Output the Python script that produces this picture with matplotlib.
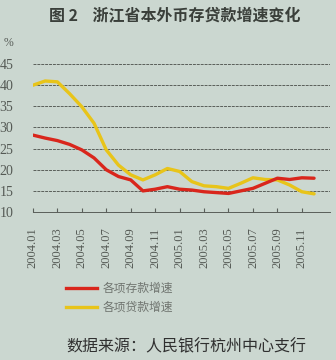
import matplotlib
matplotlib.use("Agg")
import matplotlib.pyplot as plt
import numpy as np

plt.rcParams['font.family'] = ['Noto Sans CJK SC', 'DejaVu Sans']

BG = "#cbd7d0"

# monthly growth rates, 2004.01 - 2005.12 (%)
months = ["2004.01", "2004.02", "2004.03", "2004.04", "2004.05", "2004.06",
          "2004.07", "2004.08", "2004.09", "2004.10", "2004.11", "2004.12",
          "2005.01", "2005.02", "2005.03", "2005.04", "2005.05", "2005.06",
          "2005.07", "2005.08", "2005.09", "2005.10", "2005.11", "2005.12"]
deposit = [28.2, 27.5, 26.9, 26.0, 24.7, 22.8, 20.0, 18.4, 17.6, 15.0, 15.4, 16.0,
           15.4, 15.2, 14.8, 14.6, 14.4, 15.0, 15.6, 16.8, 18.0, 17.7, 18.1, 18.0]
loan = [40.0, 41.0, 40.8, 38.0, 34.9, 31.0, 24.7, 21.1, 18.8, 17.6, 18.8, 20.3,
        19.6, 17.2, 16.2, 16.0, 15.6, 16.8, 18.1, 17.7, 17.6, 16.4, 14.8, 14.3]
tick_labels = months[::2]
yticks = [10, 15, 20, 25, 30, 35, 40, 45]

fig = plt.figure(figsize=[3.36, 3.6], dpi=100)
fig.patch.set_facecolor(BG)
ax = fig.add_axes([0.098, 0.411, 0.884, 0.411])
ax.set_facecolor(BG)

x = np.arange(len(months))
for y in yticks[1:]:
    ax.axhline(y, color="#5a5f5a", lw=0.7, ls=(0, (3, 1)), zorder=1)

ax.plot(x, deposit, color="#d9261c", lw=2.4, zorder=3, solid_capstyle='round')
ax.plot(x, loan, color="#e8c419", lw=2.4, zorder=2, solid_capstyle='round')

ax.set_xlim(0, 24.3)
ax.set_ylim(10, 45)
ax.set_xticks(x[::2])
ax.set_xticklabels(tick_labels, rotation=90, family='Liberation Serif',
                   fontsize=9, color="#555a55")
ax.set_yticks(yticks)
ax.set_yticklabels([str(v) for v in yticks], family='Liberation Serif',
                   fontsize=10, color="#555a55")
ax.tick_params(axis='y', length=0, pad=14)
ax.tick_params(axis='x', direction='in', length=3, color="#5a5f5a", pad=11)
for s in ["left", "top", "right"]:
    ax.spines[s].set_visible(False)
ax.spines["bottom"].set_color("#5a5f5a")
ax.spines["bottom"].set_linestyle((0, (3, 1)))
ax.spines["bottom"].set_linewidth(0.7)

fig.text(0.52, 0.955, "图 2    浙江省本外币存贷款增速变化", ha='center', va='center',
         fontsize=11.5, fontweight='bold', color="#3a3f3a")
fig.text(0.012, 0.873, "%", fontsize=8.5, color="#555a55", family='Liberation Serif')

# legend
fig.add_artist(plt.Line2D([0.195, 0.288], [0.2, 0.2], color="#d9261c", lw=2.4))
fig.add_artist(plt.Line2D([0.195, 0.288], [0.147, 0.147], color="#e8c419", lw=2.4))
fig.text(0.305, 0.2, "各项存款增速", va='center', fontsize=8.5, color="#707570")
fig.text(0.305, 0.147, "各项贷款增速", va='center', fontsize=8.5, color="#707570")

fig.text(0.555, 0.036, "数据来源：人民银行杭州中心支行", ha='center', va='center',
         fontsize=11.5, color="#303030")

fig.savefig("out.png", dpi=100, facecolor=BG)
